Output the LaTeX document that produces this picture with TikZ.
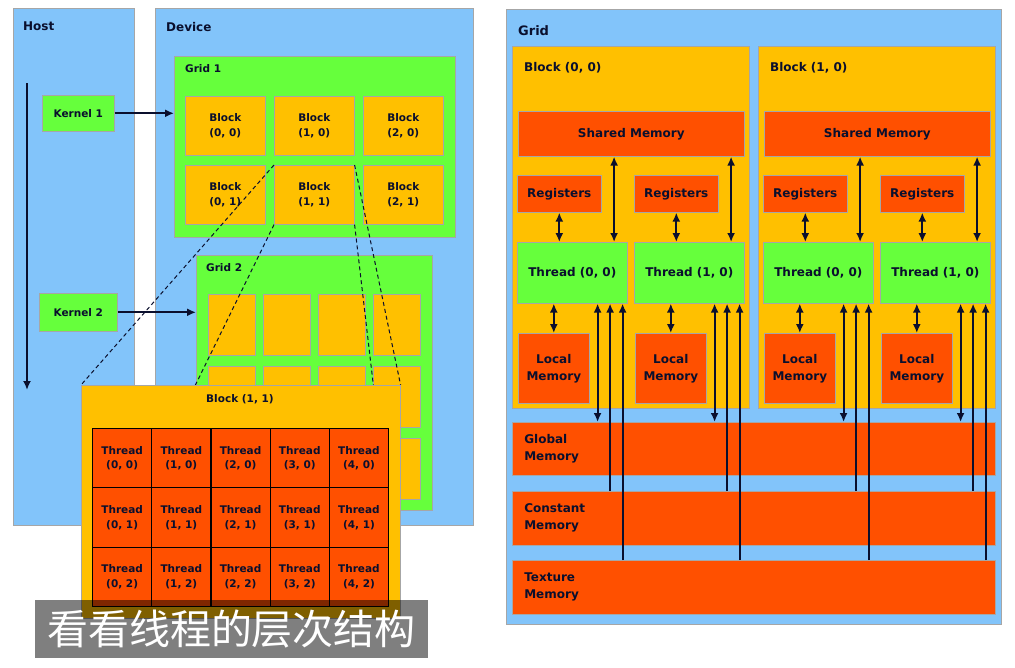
\documentclass[tikz,border=0pt]{standalone}
\usepackage{fontspec}
\setmainfont{DejaVu Sans}
\newfontfamily\cjk{Noto Sans CJK SC}
\usepackage{tikz}
\usetikzlibrary{arrows.meta, positioning}
\definecolor{hostblue}{RGB}{130,196,250}
\definecolor{gridgreen}{RGB}{102,255,60}
\definecolor{blockorange}{RGB}{255,192,0}
\definecolor{memred}{RGB}{255,80,0}
\definecolor{inkblue}{RGB}{10,15,45}
\pgfdeclarelayer{back}
\pgfdeclarelayer{lines}
\pgfsetlayers{back,lines,main}

\begin{document}
\begin{tikzpicture}[
        x=1pt, y=-1pt,
        box/.style={draw=black!35, line width=0.6pt, anchor=north west, inner sep=0pt, align=center, text=inkblue, font=\bfseries\fontsize{10.5}{14.5}\selectfont},
        bluebox/.style={box, fill=hostblue},
        greenbox/.style={box, fill=gridgreen},
        orangebox/.style={box, fill=blockorange},
        redbox/.style={box, fill=memred},
        cellbox/.style={redbox, draw=black, line width=1.1pt},
        rfont/.style={font=\bfseries\fontsize{12}{17}\selectfont},
        lbl/.style={inner sep=0pt, text=inkblue, font=\bfseries\fontsize{10.5}{14}\selectfont},
        title/.style={lbl, font=\bfseries\fontsize{12}{14}\selectfont},
        rtitle/.style={lbl, font=\bfseries\fontsize{13}{15}\selectfont},
        arr/.style={-{Latex[length=9pt,width=8pt]}, line width=2pt, inkblue},
        dbl/.style={{Latex[length=9pt,width=8pt]}-{Latex[length=9pt,width=8pt]}, line width=2pt, inkblue},
        zoomline/.style={dashed, dash pattern=on 4pt off 3pt, line width=1pt, inkblue},
        caption/.style={fill=black, fill opacity=0.5, text opacity=1, text=white, inner sep=0pt, minimum width=393, minimum height=58, font=\cjk\fontsize{41}{41}\selectfont}
    ]
    \useasboundingbox (0,0) rectangle (1015,667);

    % Host and device
    \begin{pgfonlayer}{back}
    \fill[white] (0,0) rectangle (1015,667);
    \node[bluebox, minimum width=121, minimum height=517] (host) at (13,8) {};
    \node[bluebox, minimum width=318, minimum height=517] (device) at (155,8) {};
    \node[title, anchor=west] (hostlbl) at (23,26) {Host};
    \node[title, anchor=west] (devlbl) at (166,27) {Device};

    % Grid 1
    \node[greenbox, minimum width=281, minimum height=181] (grid1) at (174,56) {};
    \node[lbl, anchor=west] (g1lbl) at (185,69) {Grid 1};
    \foreach \c in {0,1,2}
        \foreach \r in {0,1}
            \node[orangebox, minimum width=80, minimum height=59] (g1b\c\r) at ({185+89*\c},{96+69*\r}) {Block\\(\c, \r)};

    % Grid 2
    \node[greenbox, minimum width=236, minimum height=255] (grid2) at (196,255) {};
    \node[lbl, anchor=west] (g2lbl) at (206,268) {Grid 2};
    \foreach \c in {0,...,3}
        \foreach \r in {0,1,2}
            \node[orangebox, minimum width=47, minimum height=61] (g2b\c\r) at ({208+55*\c},{294+72*\r}) {};

    % Kernels
    \node[greenbox, minimum width=72, minimum height=36] (k1) at (42,95) {Kernel 1};
    \node[greenbox, minimum width=78, minimum height=38] (k2) at (39,293) {Kernel 2};
    \draw[arr] (k1.east) -- (k1.east -| grid1.west);
    \draw[arr] (k2.east) -- (k2.east -| grid2.west);
    \coordinate (time0) at (27,83);
    \coordinate (time1) at (27,390);
    \draw[arr] (time0) -- (time1);
    \end{pgfonlayer}

    % Block (1, 1) zoomed
    \node[orangebox, minimum width=319, minimum height=233] (big) at (81,385) {};
    \node[lbl] (biglbl) at (240,399) {Block (1, 1)};
    \foreach \c in {0,...,4}
        \foreach \r in {0,1,2}
            \node[cellbox, minimum width=59.2, minimum height=59.3] (cell\c\r) at ({92+59.2*\c},{428+59.3*\r}) {Thread\\(\c, \r)};

    \begin{pgfonlayer}{lines}
    \draw[zoomline] (g1b11.north west) -- (big.north west);
    \draw[zoomline] (g1b11.north east) -- (big.north east);
    \draw[zoomline] (g1b11.south west) -- (big.south west);
    \draw[zoomline] (g1b11.south east) -- (big.south east);
    \end{pgfonlayer}

    \node[caption] (cap) at (231.5,629) {看看线程的层次结构};

    % Memory model
    \node[bluebox, minimum width=495, minimum height=615] (grid) at (506,9) {};
    \node[rtitle, anchor=west] (gridlbl) at (518,31) {Grid};
    \foreach \b in {0,1} {
        \node[orangebox, minimum width=237, minimum height=362] (blk\b) at ({512+246*\b},46) {};
        \node[title, anchor=west] (blklbl\b) at ({524+246*\b},68) {Block (\b, 0)};
        \node[redbox, rfont, minimum width=226, minimum height=45] (sh\b) at ({518+246*\b},111) {Shared Memory};
        \foreach \t in {0,1} {
            \node[redbox, rfont, minimum width=84, minimum height=37] (reg\b\t) at ({517+246*\b+117*\t},175) {Registers};
            \node[greenbox, rfont, minimum width=110, minimum height=61] (thr\b\t) at ({517+246*\b+117*\t},242) {Thread (\t, 0)};
            \node[redbox, rfont, minimum width=71, minimum height=70] (loc\b\t) at ({518+246*\b+117*\t},333) {Local\\Memory};
        }
    }
    \node[redbox, rfont, inner xsep=12pt, text width=459, minimum height=53, align=left] (glob) at (512,422) {Global\\Memory};
    \node[redbox, rfont, inner xsep=12pt, text width=459, minimum height=54, align=left] (const) at (512,491) {Constant\\Memory};
    \node[redbox, rfont, inner xsep=12pt, text width=459, minimum height=54, align=left] (tex) at (512,560) {Texture\\Memory};

    % Arrows
    \foreach \b in {0,1}
        \foreach \t in {0,1} {
            \draw[dbl] (reg\b\t.south) -- (reg\b\t.south |- thr\b\t.north);
            \coordinate (sa\b\t) at ([xshift=-13.5pt]thr\b\t.north east);
            \draw[dbl] (sa\b\t) -- (sa\b\t |- sh\b.south);
            \draw[dbl] (loc\b\t.north) -- (loc\b\t.north |- thr\b\t.south);
            \coordinate (ga\b\t) at ([xshift=-30pt]thr\b\t.south east);
            \coordinate (ca\b\t) at ([xshift=-17.5pt]thr\b\t.south east);
            \coordinate (ta\b\t) at ([xshift=-5pt]thr\b\t.south east);
            \draw[dbl] (ga\b\t) -- (ga\b\t |- glob.north);
            \draw[arr] (ca\b\t |- const.north) -- (ca\b\t);
            \draw[arr] (ta\b\t |- tex.north) -- (ta\b\t);
        }
\end{tikzpicture}
\end{document}
